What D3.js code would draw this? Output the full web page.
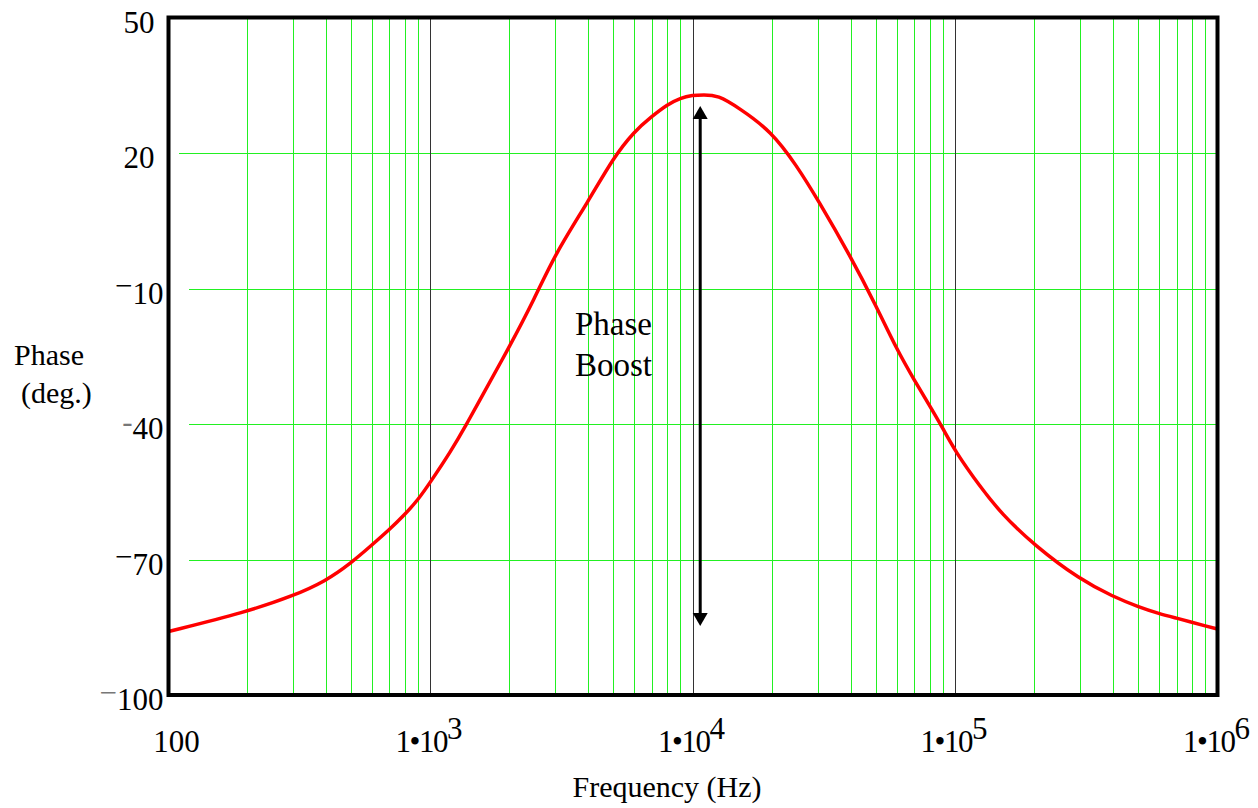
<!DOCTYPE html>
<html>
<head>
<meta charset="utf-8">
<script src="https://cdn.jsdelivr.net/npm/d3@7"></script>
<style>
  html, body { margin: 0; padding: 0; background: #fff; }
  svg { display: block; }
  text { font-family: "Liberation Serif", "Times New Roman", serif; fill: #000; }
</style>
</head>
<body>
<svg id="chart" width="1258" height="808"></svg>
<script>
// Phase response of the compensator (degrees vs. frequency in Hz)
const freqHz = [
  100, 200, 300, 400, 500, 600, 700, 800, 900, 1000,
  1200, 1380, 1500, 2000, 2500, 3000, 4000, 5000, 6000, 7000, 8000, 9000,
  10000, 11000, 12500, 15000, 20000, 25000, 30000, 40000, 50000, 60000, 70000, 80000, 90000,
  100000, 125000, 150000, 200000, 300000, 400000, 500000, 600000, 700000, 800000, 900000, 1000000
];
const phaseDeg = [
  -86.0, -81.6, -78.1, -74.8, -70.8, -66.8, -63.4, -60.1, -56.8, -53.0,
  -46.1, -40.0, -36.1, -23.1, -12.3, -2.3, 9.2, 19.0, 24.8, 28.1, 30.7, 32.2,
  32.8, 32.9, 32.8, 30.0, 24.8, 17.1, 9.7, -2.9, -13.8, -23.5, -30.3, -35.9, -41.0,
  -46.0, -54.0, -59.8, -66.8, -74.5, -78.2, -80.5, -82.0, -83.0, -83.9, -84.7, -85.4
];

// Axis ticks
const yTicks = [50, 20, -10, -40, -70, -100];
const xTickValues = [100, 1000, 10000, 100000, 1000000];
const xTickMantissa = ["100", "1\u202210", "1\u202210", "1\u202210", "1\u202210"];
const xTickExponent = ["", "3", "4", "5", "6"];

// Phase-boost annotation: arrow span and label
const boostFreq = 10700;
const boostTop = 30.4;
const boostBottom = -84.7;
const boostLabelFreq = 3565;
const boostLabelPhase = -20.3;
const boostLabelLines = ["Phase", "Boost"];

const svg = d3.select("#chart");

const x = d3.scaleLog().domain([100, 1e6]).range([167.5, 1217.5]);
const y = d3.scaleLinear().domain([-100, 50]).range([695, 17.5]);

const [x0, x1] = x.range();
const [yb, yt] = y.range();

const crisp = v => Math.round(v) + 0.5;

// Minor (green) vertical grid
const allTicks = x.ticks();
const decades = [1000, 10000, 100000];
const minor = allTicks.filter(v => v > 100 && v < 1e6 && !decades.includes(v));

const gridGreen = "#22f022";

svg.append("g").selectAll("line").data(minor).join("line")
  .attr("x1", d => crisp(x(d))).attr("x2", d => crisp(x(d)))
  .attr("y1", yt).attr("y2", yb)
  .attr("stroke", gridGreen).attr("stroke-width", 1)
  .attr("shape-rendering", "crispEdges");

// Horizontal green grid
svg.append("g").selectAll("line").data(yTicks.filter(v => v > -100 && v < 50)).join("line")
  .attr("x1", d => d === 20 ? x0 + 11 : x0 + 21).attr("x2", x1)
  .attr("y1", d => crisp(y(d))).attr("y2", d => crisp(y(d)))
  .attr("stroke", gridGreen).attr("stroke-width", 1)
  .attr("shape-rendering", "crispEdges");

// Decade lines
svg.append("g").selectAll("line").data(decades).join("line")
  .attr("x1", d => crisp(x(d))).attr("x2", d => crisp(x(d)))
  .attr("y1", yt).attr("y2", yb)
  .attr("stroke", "#333").attr("stroke-width", 1)
  .attr("shape-rendering", "crispEdges");

// Phase curve
const pts = freqHz.map((f, i) => [f, phaseDeg[i]]);
svg.append("path")
  .datum(pts)
  .attr("fill", "none")
  .attr("stroke", "#ff0000")
  .attr("stroke-width", 3.5)
  .attr("stroke-linejoin", "round")
  .attr("d", d3.line().curve(d3.curveBasis).x(d => x(d[0])).y(d => y(d[1])));

// Double-headed arrow
const ax = x(boostFreq);
const aTop = y(boostTop);
const aBot = y(boostBottom);
const headLen = 13, headHalf = 7.5;
svg.append("line")
  .attr("x1", ax).attr("x2", ax)
  .attr("y1", aTop + headLen - 1).attr("y2", aBot - headLen + 1)
  .attr("stroke", "#000").attr("stroke-width", 3);
svg.append("path")
  .attr("d", `M${ax},${aTop} L${ax - headHalf},${aTop + headLen} L${ax + headHalf},${aTop + headLen} Z`)
  .attr("fill", "#000");
svg.append("path")
  .attr("d", `M${ax},${aBot} L${ax - headHalf},${aBot - headLen} L${ax + headHalf},${aBot - headLen} Z`)
  .attr("fill", "#000");

// Annotation label
const lbl = svg.append("text")
  .attr("x", x(boostLabelFreq)).attr("y", y(boostLabelPhase))
  .attr("font-size", 33);
boostLabelLines.forEach((t, i) => {
  lbl.append("tspan").attr("x", x(boostLabelFreq)).attr("dy", i === 0 ? 0 : 41).text(t);
});

// Plot frame
svg.append("rect")
  .attr("x", x0 + 1).attr("y", yt)
  .attr("width", x1 - x0 - 1).attr("height", yb - yt)
  .attr("fill", "none").attr("stroke", "#000").attr("stroke-width", 4);

// Y tick labels
yTicks.forEach(v => {
  const t = svg.append("text")
    .attr("font-size", 31)
    .attr("text-anchor", "end")
    .attr("y", y(v) + 15);
  if (v < 0) {
    t.attr("x", x0 - 4);
    const isShort = v === -40;
    t.append("tspan")
      .attr("dy", -7.5)
      .attr("fill", (v === -40 || v === -100) ? "#777" : "#000")
      .text(isShort ? "-" : "\u2212");
    t.append("tspan").attr("dy", 7.5).text(String(-v));
  } else {
    t.attr("x", x0 - 13).text(String(v));
  }
});

// X tick labels
xTickValues.forEach((v, i) => {
  const t = svg.append("text")
    .attr("font-size", 31)
    .attr("text-anchor", "middle")
    .attr("y", 752);
  if (xTickExponent[i] === "") {
    t.attr("x", x(v) + 9).text(xTickMantissa[i]);
  } else {
    t.attr("x", x(v) - 1);
    t.append("tspan").attr("letter-spacing", "-1.5").text(xTickMantissa[i]);
    t.append("tspan").attr("dy", -13).text(xTickExponent[i]);
  }
});

// Axis titles
svg.append("text").attr("x", 667).attr("y", 797)
  .attr("font-size", 30).attr("text-anchor", "middle").text("Frequency (Hz)");
svg.append("text").attr("x", 14).attr("y", 365)
  .attr("font-size", 30).text("Phase");
svg.append("text").attr("x", 21).attr("y", 403)
  .attr("font-size", 30).text("(deg.)");
</script>
</body>
</html>
